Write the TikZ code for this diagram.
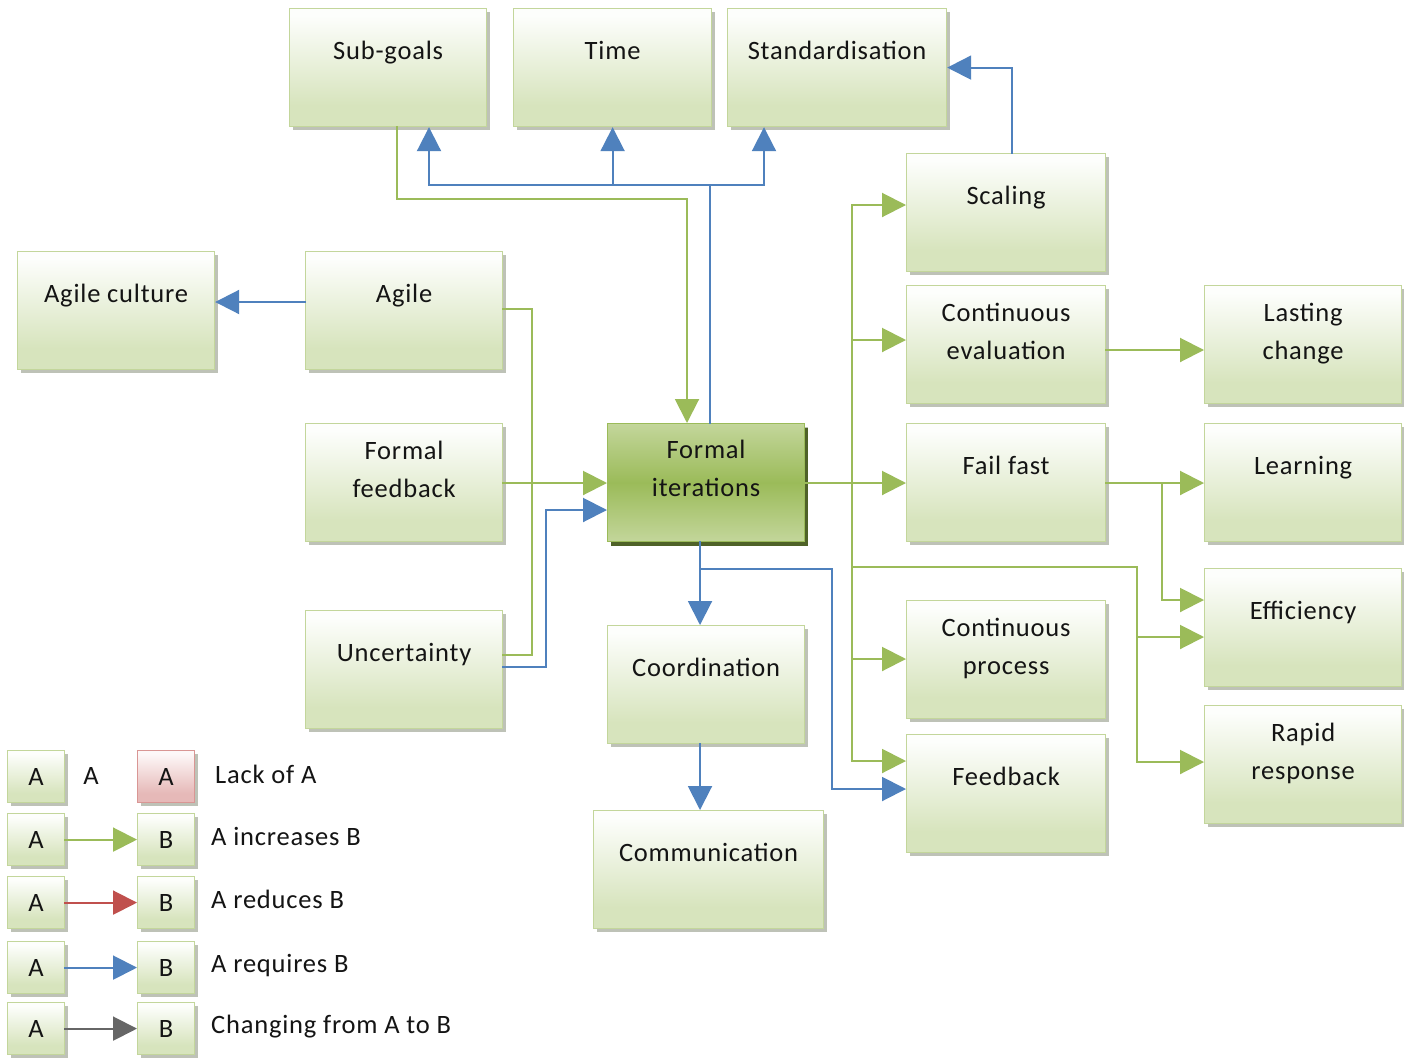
\documentclass[tikz,border=0pt]{standalone}
\usepackage{fontspec}
\setmainfont{Carlito}[LetterSpace=3]
\usetikzlibrary{arrows.meta,shadows}

% palette
\definecolor{gLine}{HTML}{9BBB59}
\definecolor{bLine}{HTML}{4F81BD}
\definecolor{rLine}{HTML}{C0504D}
\definecolor{kLine}{HTML}{666666}
\definecolor{boxTop}{HTML}{FDFEFC}
\definecolor{boxBot}{HTML}{D7E4BD}
\definecolor{boxEdge}{HTML}{C3D69B}
\definecolor{boxShadow}{HTML}{A9AE9F}
\definecolor{fiLight}{HTML}{C3D69B}
\definecolor{fiMid}{HTML}{9BBB59}
\definecolor{fiShadow}{HTML}{4F6228}
\definecolor{redTop}{HTML}{FDF8F8}
\definecolor{redBot}{HTML}{E6B9B8}
\definecolor{redEdge}{HTML}{D99694}
\definecolor{ink}{HTML}{141414}

% box fills: light at the top, flat colour over the lowest part
\pgfdeclareverticalshading{cboxshade}{100bp}{color(0bp)=(boxBot); color(25bp)=(boxBot); color(34bp)=(boxBot); color(72bp)=(boxTop); color(100bp)=(boxTop)}
\pgfdeclareverticalshading{fishade}{100bp}{color(0bp)=(fiLight); color(25bp)=(fiLight); color(50bp)=(fiMid); color(75bp)=(fiLight); color(100bp)=(fiLight)}
\pgfdeclareverticalshading{redshade}{100bp}{color(0bp)=(redBot); color(25bp)=(redBot); color(34bp)=(redBot); color(72bp)=(redTop); color(100bp)=(redTop)}

% concept box with a one-line label
\newcommand\cbx[6]{%
  \node[cbox, minimum width=#4pt, minimum height=#5pt] (#1) at (#2,#3) {};
  \node[lbl] (#1-t) at ([yshift=-24.4pt]#1.north) {\strut #6};}
% concept box with a two-line label
\newcommand\cbxx[7]{%
  \node[cbox, minimum width=#4pt, minimum height=#5pt] (#1) at (#2,#3) {};
  \node[lbl] (#1-t) at ([yshift=-9.4pt]#1.north) {\strut #6\\\strut #7};}

\begin{document}
\begin{tikzpicture}[x=1pt, y=-1pt,
  cbox/.style={draw=boxEdge, line width=1.2pt, shade, shading=cboxshade,
    anchor=north west, inner sep=0pt,
    drop shadow={shadow xshift=3pt, shadow yshift=-3pt, fill=boxShadow, opacity=0.75}},
  fibox/.style={cbox, draw=fiMid, shading=fishade,
    drop shadow={shadow xshift=3pt, shadow yshift=-4pt, fill=fiShadow, opacity=1}},
  redbox/.style={cbox, draw=redEdge, shading=redshade},
  lbl/.style={anchor=north, inner sep=0pt, align=center, text=ink,
    font=\fontsize{26.5}{38}\selectfont},
  ltext/.style={anchor=base west, inner sep=0pt, text=ink,
    font=\fontsize{26.5}{38}\selectfont},
  con/.style={line width=2pt, line cap=rect},
  tip/.style={-{Triangle[length=24pt, width=24pt]}},
  inc/.style={con, draw=gLine, tip},
  incl/.style={con, draw=gLine},
  req/.style={con, draw=bLine, tip},
  reql/.style={con, draw=bLine},
  red/.style={con, draw=rLine, tip},
  chg/.style={con, draw=kLine, tip}]

\fill[white] (0,0) rectangle (1404,1057);
\useasboundingbox (0,0) rectangle (1404,1057);

% ---- concepts ----
\cbx{sub}{289}{8}{197}{118}{Sub-goals}
\cbx{time}{513}{8}{198}{118}{Time}
\cbx{std}{727}{8}{219}{118}{Standardisation}
\cbx{agc}{17}{251}{197}{118}{Agile culture}
\cbx{agile}{305}{251}{197}{118}{Agile}
\cbxx{ffb}{305}{423}{197}{118}{Formal}{feedback}
\cbx{unc}{305}{610}{197}{118}{Uncertainty}
\node[fibox, minimum width=197pt, minimum height=118pt] (fi) at (607,423) {};
\node[lbl] (fi-t) at ([yshift=-8.4pt]fi.north) {\strut Formal\\\strut iterations};
\cbx{coord}{607}{625}{197}{118}{Coordination}
\cbx{comm}{593}{810}{230}{118}{Communication}
\cbx{scal}{906}{153}{199}{118}{Scaling}
\cbxx{ce}{906}{285}{199}{118}{Continuous}{evaluation}
\cbx{ff}{906}{423}{199}{118}{Fail fast}
\cbxx{cp}{906}{600}{199}{118}{Continuous}{process}
\cbx{fb}{906}{734}{199}{118}{Feedback}
\cbxx{lc}{1204}{285}{197}{118}{Lasting}{change}
\cbx{learn}{1204}{423}{197}{118}{Learning}
\cbx{eff}{1204}{568}{197}{118}{Efficiency}
\cbxx{rr}{1204}{705}{197}{118}{Rapid}{response}

% ---- requirements of formal iterations (top) ----
\draw[reql] (fi.north -| 710,0) -- (710,185);
\draw[req] (710,185) -| (sub.south -| 429,0);
\draw[req] (710,185) -| (std.south -| 764,0);
\draw[req] (time.south |- 0,185) -- (time.south);
\draw[inc] (sub.south -| 397,0) |- (687,199) -- (fi.north -| 687,0);
\draw[req] (scal.north -| 1012,0) |- (std.east);

% ---- left side ----
\draw[req] (agile.west |- 0,302) -- (agc.east |- 0,302);
\draw[incl] (agile.east |- 0,309) -| (532,655) -- (unc.east |- 0,655);
\draw[inc] (ffb.east |- 0,483) -- (fi.west |- 0,483);
\draw[req] (unc.east |- 0,667) -| (546,510) -- (fi.west |- 0,510);

% ---- below ----
\draw[req] (fi.south -| 700,0) -- (coord.north -| 700,0);
\draw[req] (700,569) -| (832,789) -- (fb.west |- 0,789);
\draw[req] (coord.south -| 700,0) -- (comm.north -| 700,0);

% ---- effects of formal iterations (right) ----
\draw[inc] (fi.east |- 0,483) -- (ff.west |- 0,483);
\draw[incl] (852,205) -- (852,761);
\draw[inc] (852,205) -- (scal.west |- 0,205);
\draw[inc] (852,340) -- (ce.west |- 0,340);
\draw[inc] (852,659) -- (cp.west |- 0,659);
\draw[inc] (852,761) -- (fb.west |- 0,761);
\draw[inc] (852,567) -| (1137,762) -- (rr.west |- 0,762);
\draw[inc] (1137,637) -- (eff.west |- 0,637);
\draw[inc] (ce.east |- 0,350) -- (lc.west |- 0,350);
\draw[inc] (ff.east |- 0,483) -- (learn.west |- 0,483);
\draw[inc] (1162,483) |- (eff.west |- 0,600);

% ---- legend ----
\node[cbox, minimum width=57pt, minimum height=52pt] (lgA1) at (7,750) {};
\node[lbl, anchor=center] (lgA1-t) at (lgA1) {A};
\node[lbl, anchor=center] (lgPlain) at (91,776) {A};
\node[redbox, minimum width=57pt, minimum height=52pt] (lgR1) at (137,750) {};
\node[lbl, anchor=center] (lgR1-t) at (lgR1) {A};
\node[ltext] (lg1-t) at (215,783) {Lack of A};

\foreach \r/\y/\sty/\txt/\base in {2/813/inc/A increases B/845,
                                   3/876/red/A reduces B/908,
                                   4/941/req/A requires B/972,
                                   5/1002/chg/Changing from A to B/1033}{
  \node[cbox, minimum width=57pt, minimum height=52pt] (lgA\r) at (7,\y) {};
  \node[lbl, anchor=center] (lgA\r-t) at (lgA\r) {A};
  \node[cbox, minimum width=57pt, minimum height=52pt] (lgB\r) at (137,\y) {};
  \node[lbl, anchor=center] (lgB\r-t) at (lgB\r) {B};
  \draw[\sty] (lgA\r.east) -- (lgB\r.west);
  \node[ltext] (lg\r-t) at (211,\base) {\txt};
}
\end{tikzpicture}
\end{document}
